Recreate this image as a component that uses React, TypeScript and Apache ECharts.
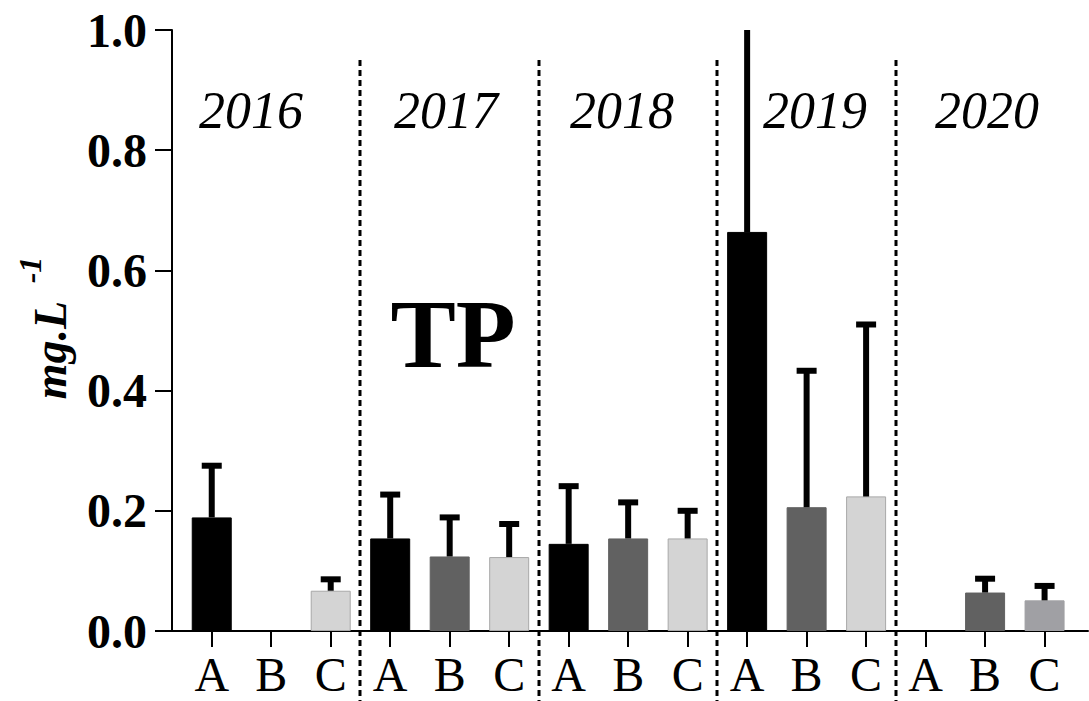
import React, { useEffect, useRef } from "react";
import * as echarts from "echarts";

const years = ["2016", "2017", "2018", "2019", "2020"];
const sites = ["A", "B", "C"];
const meanA = [0.189, 0.154, 0.145, 0.664, 0];
const meanB = [0, 0.124, 0.154, 0.206, 0.064];
const meanC = [0.067, 0.123, 0.154, 0.224, 0.051];
const sdA = [0.086, 0.073, 0.096, 0.4, 0];
const sdB = [0, 0.065, 0.06, 0.227, 0.023];
const sdC = [0.019, 0.055, 0.046, 0.286, 0.024];
const yTicks = [0, 0.2, 0.4, 0.6, 0.8, 1.0];

const FONT = "'Liberation Serif', 'Times New Roman', serif";
const fillA = "#000000";
const fillB = "#616161";
const fillC = "#d4d4d4";
const fillC2020 = "#a0a0a4";

export default function App() {
  const ref = useRef<HTMLDivElement>(null);
  useEffect(() => {
    if (!ref.current) return;
    const chart = echarts.init(ref.current, null, { renderer: "svg" });
    const means = [meanA, meanB, meanC];
    const sds = [sdA, sdB, sdC];
    const barData: any[] = [];
    const errData: any[] = [];
    years.forEach((yr, i) => {
      sites.forEach((s, j) => {
        const x = i * 3 + j;
        const m = means[j][i];
        const sd = sds[j][i];
        let color = j === 0 ? fillA : j === 1 ? fillB : fillC;
        if (j === 2 && yr === "2020") color = fillC2020;
        barData.push({
          value: [x, m],
          itemStyle: {
            color,
            borderColor: j === 2 && yr !== "2020" ? "#a8a8a8" : color,
            borderWidth: m > 0 ? 1 : 0,
          },
        });
        if (m > 0 && sd > 0) errData.push([x, m, m + sd]);
      });
    });
    const tickVals = years.flatMap((_, i) => sites.map((_, j) => i * 3 + j));

    const option: any = {
      animation: false,
      grid: { left: 172, right: 1, top: 30, height: 601 },
      xAxis: {
        type: "value",
        min: -0.668,
        max: 14.73,
        axisLine: { show: true, onZero: false, lineStyle: { color: "#000", width: 2 } },
        axisTick: {
          show: true,
          length: 16,
          lineStyle: { color: "#000", width: 2 },
          customValues: tickVals,
        },
        axisLabel: {
          show: true,
          margin: 19,
          fontFamily: FONT,
          fontSize: 48,
          color: "#000",
          customValues: tickVals,
          formatter: (v: number) => sites[Math.round(v) % 3],
        },
        splitLine: { show: false },
      },
      yAxis: {
        type: "value",
        min: 0,
        max: 1,
        interval: 0.2,
        axisLine: { show: true, onZero: false, lineStyle: { color: "#000", width: 2 } },
        axisTick: { show: true, length: 17, lineStyle: { color: "#000", width: 2 } },
        axisLabel: {
          margin: 25,
          fontFamily: FONT,
          fontSize: 48,
          fontWeight: "bold",
          color: "#000",
          customValues: yTicks,
          formatter: (v: number) => v.toFixed(1),
        },
        splitLine: { show: false },
      },
      series: [
        {
          type: "bar",
          data: barData,
          barWidth: 40,
          z: 2,
        },
        {
          type: "custom",
          clip: true,
          z: 3,
          data: errData,
          renderItem: (params: any, api: any) => {
            const x = api.value(0);
            const lo = api.coord([x, api.value(1)]);
            const hi = api.coord([x, api.value(2)]);
            const style = { stroke: "#000", lineWidth: 6 };
            return {
              type: "group",
              children: [
                { type: "line", shape: { x1: lo[0], y1: lo[1], x2: hi[0], y2: hi[1] }, style },
                { type: "line", shape: { x1: hi[0] - 10, y1: hi[1], x2: hi[0] + 10, y2: hi[1] }, style },
              ],
            };
          },
        },
      ],
    };
    chart.setOption(option);

    const seps: any[] = [];
    for (let k = 1; k < years.length; k++) {
      const px = chart.convertToPixel({ gridIndex: 0 }, [k * 3 - 0.5, 0]) as number[];
      seps.push({
        type: "line",
        shape: { x1: Math.round(px[0]), y1: 60, x2: Math.round(px[0]), y2: 701 },
        style: { stroke: "#000", lineWidth: 3, lineDash: [6, 4] },
        z: 1,
      });
    }
    const yearCenters = [251, 446, 622, 815, 987];
    const yearTexts = years.map((yr, i) => ({
      type: "text",
      x: yearCenters[i],
      y: 110,
      style: {
        text: yr,
        font: `italic 52px ${FONT}`,
        fill: "#000",
        textAlign: "center",
        textVerticalAlign: "middle",
      },
      z: 5,
    }));
    chart.setOption({
      graphic: [
        ...seps,
        ...yearTexts,
        {
          type: "text",
          x: 453,
          y: 334,
          style: {
            text: "TP",
            font: `bold 98px ${FONT}`,
            fill: "#000",
            textAlign: "center",
            textVerticalAlign: "middle",
          },
          z: 5,
        },
        {
          type: "text",
          x: 50,
          y: 350,
          rotation: Math.PI / 2,
          style: {
            text: "mg.L",
            font: `italic bold 46px ${FONT}`,
            fill: "#000",
            textAlign: "center",
            textVerticalAlign: "middle",
          },
          z: 5,
        },
        {
          type: "text",
          x: 30,
          y: 270,
          rotation: Math.PI / 2,
          style: {
            text: "-1",
            font: `italic bold 32px ${FONT}`,
            fill: "#000",
            textAlign: "center",
            textVerticalAlign: "middle",
          },
          z: 5,
        },
      ],
    });
    return () => chart.dispose();
  }, []);
  return (
    <div
      ref={ref}
      style={{ position: "fixed", left: 0, top: 0, width: 1089, height: 701, background: "#fff" }}
    />
  );
}
